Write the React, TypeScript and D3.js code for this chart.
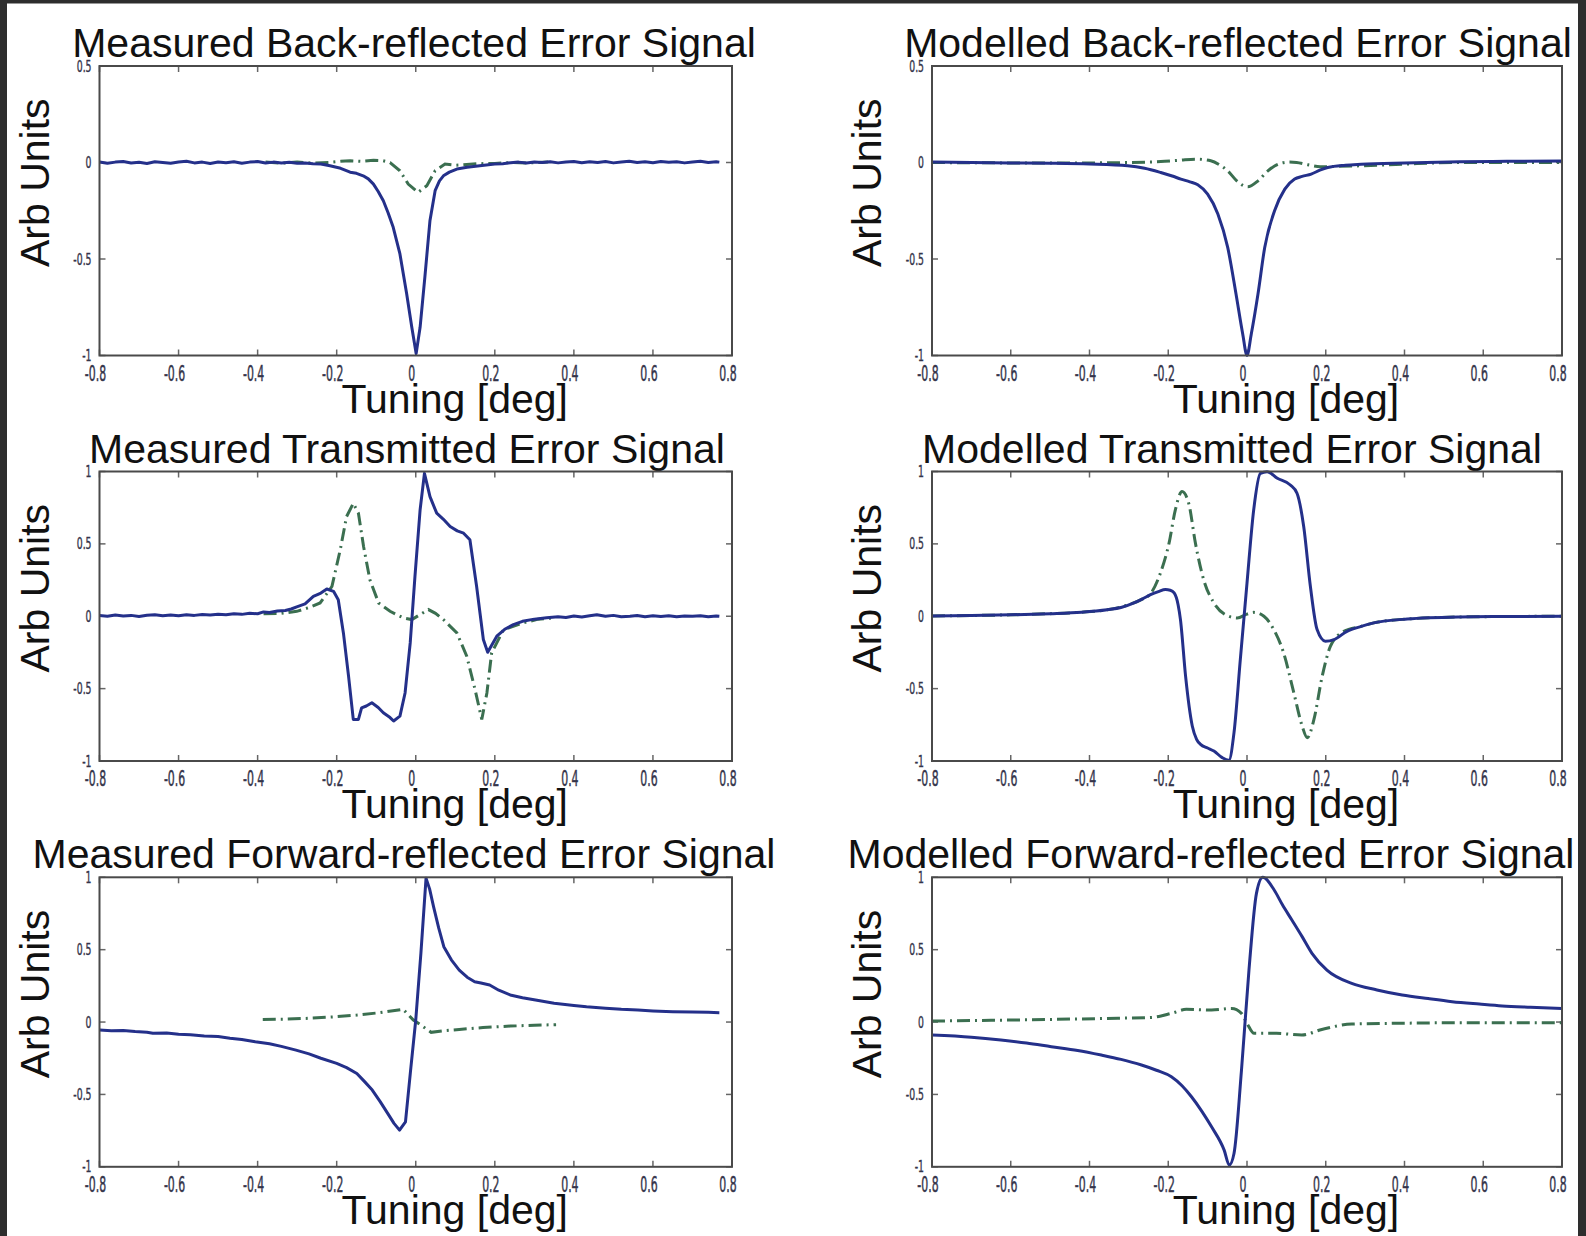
import React from "react";
import * as d3 from "d3";

type Pt = [number, number];

// tick values / labels
const xTicks = [-0.8, -0.6, -0.4, -0.2, 0, 0.2, 0.4, 0.6, 0.8];
const xTickLabels = ["-0.8", "-0.6", "-0.4", "-0.2", "0", "0.2", "0.4", "0.6", "0.8"];
const yTicksBack = [-1, -0.5, 0, 0.5];
const yTickLabelsBack = ["-1", "-0.5", "0", "0.5"];
const yTicksFull = [-1, -0.5, 0, 0.5, 1];
const yTickLabelsFull = ["-1", "-0.5", "0", "0.5", "1"];

const titles = [
  "Measured Back-reflected Error Signal",
  "Modelled Back-reflected Error Signal",
  "Measured Transmitted Error Signal",
  "Modelled Transmitted Error Signal",
  "Measured Forward-reflected Error Signal",
  "Modelled Forward-reflected Error Signal",
];

// curves: [tuning deg, arb units]
const measBackBlue: Pt[] = [
  [-0.8, 0.003], [-0.78, -0.004], [-0.76, 0.002], [-0.74, 0.005], [-0.72, -0.003], [-0.7, 0.001],
  [-0.68, -0.005], [-0.66, 0.004], [-0.64, 0.0], [-0.62, -0.004], [-0.6, 0.003], [-0.58, 0.006],
  [-0.56, -0.002], [-0.54, 0.002], [-0.52, -0.005], [-0.5, 0.003], [-0.48, -0.001], [-0.46, 0.004],
  [-0.44, -0.004], [-0.42, 0.002], [-0.4, 0.005], [-0.38, -0.003], [-0.36, 0.002], [-0.34, -0.002],
  [-0.32, 0.001], [-0.3, -0.004], [-0.28, -0.002], [-0.26, -0.006], [-0.24, -0.008], [-0.217, -0.017],
  [-0.19, -0.03], [-0.166, -0.05], [-0.15, -0.056], [-0.133, -0.069], [-0.12, -0.085], [-0.107, -0.112],
  [-0.095, -0.15], [-0.082, -0.198], [-0.07, -0.26], [-0.057, -0.336], [-0.04, -0.474], [-0.023, -0.68],
  [-0.01, -0.854], [0.001, -0.99], [0.011, -0.854], [0.023, -0.595], [0.036, -0.3], [0.049, -0.146],
  [0.06, -0.095], [0.07, -0.069], [0.085, -0.05], [0.104, -0.034], [0.13, -0.025], [0.162, -0.017],
  [0.2, -0.008], [0.22, -0.006], [0.24, -0.001], [0.26, 0.002], [0.28, -0.003], [0.3, 0.003],
  [0.32, 0.0], [0.34, 0.004], [0.36, -0.002], [0.38, 0.003], [0.4, 0.005], [0.42, -0.001],
  [0.44, 0.004], [0.46, 0.0], [0.48, 0.005], [0.5, -0.002], [0.52, 0.003], [0.54, 0.006],
  [0.56, 0.0], [0.58, 0.004], [0.6, -0.001], [0.62, 0.005], [0.64, 0.001], [0.66, 0.004],
  [0.68, -0.002], [0.7, 0.003], [0.72, 0.006], [0.74, 0.0], [0.76, 0.004], [0.768, 0.002],
];
const measBackGreen: Pt[] = [
  [-0.38, 0.003], [-0.34, -0.004], [-0.3, 0.002], [-0.26, -0.003], [-0.22, 0.0], [-0.19, 0.006],
  [-0.166, 0.009], [-0.14, 0.006], [-0.107, 0.012], [-0.085, 0.01], [-0.065, 0.0], [-0.04, -0.043],
  [-0.019, -0.112], [0.006, -0.155], [0.028, -0.12], [0.049, -0.043], [0.074, -0.008], [0.1, -0.014],
  [0.12, -0.012], [0.16, -0.006], [0.2, -0.005], [0.24, 0.0], [0.28, -0.003], [0.335, 0.002],
];
const modelBackBlue: Pt[] = [
  [-0.8, 0.002], [-0.7, 0.0], [-0.6, -0.002], [-0.5, -0.004], [-0.4, -0.008], [-0.303, -0.017],
  [-0.26, -0.03], [-0.219, -0.052], [-0.19, -0.07], [-0.168, -0.086], [-0.145, -0.1], [-0.125, -0.115],
  [-0.1, -0.164], [-0.074, -0.267], [-0.049, -0.44], [-0.028, -0.68], [-0.011, -0.887], [0, -1],
  [0.011, -0.887], [0.028, -0.68], [0.045, -0.44], [0.07, -0.25], [0.096, -0.138], [0.121, -0.086],
  [0.14, -0.072], [0.163, -0.06], [0.185, -0.04], [0.205, -0.026], [0.25, -0.014], [0.29, -0.009],
  [0.4, -0.002], [0.54, 0.004], [0.66, 0.006], [0.8, 0.008],
];
const modelBackGreen: Pt[] = [
  [-0.8, 0.0], [-0.6, -0.002], [-0.4, -0.002], [-0.3, 0.0], [-0.219, 0.005], [-0.17, 0.012],
  [-0.125, 0.017], [-0.092, 0.009], [-0.07, -0.012], [-0.049, -0.043], [-0.026, -0.095], [0.002, -0.126],
  [0.028, -0.095], [0.053, -0.043], [0.07, -0.018], [0.084, -0.005], [0.105, 0.002], [0.126, 0.0],
  [0.155, -0.012], [0.186, -0.022], [0.23, -0.02], [0.29, -0.017], [0.4, -0.008], [0.54, 0.0], [0.8, 0.0],
];
const measTransBlue: Pt[] = [
  [-0.8, 0.005], [-0.78, 0.0], [-0.76, 0.008], [-0.74, 0.002], [-0.72, 0.006], [-0.7, -0.002],
  [-0.68, 0.007], [-0.66, 0.01], [-0.64, 0.003], [-0.62, 0.008], [-0.6, 0.004], [-0.58, 0.011],
  [-0.56, 0.006], [-0.54, 0.012], [-0.52, 0.008], [-0.5, 0.014], [-0.48, 0.01], [-0.46, 0.018],
  [-0.44, 0.013], [-0.42, 0.02], [-0.4, 0.017], [-0.385, 0.03], [-0.37, 0.026], [-0.35, 0.036],
  [-0.33, 0.04], [-0.315, 0.05], [-0.301, 0.065], [-0.28, 0.085], [-0.259, 0.137], [-0.24, 0.16],
  [-0.225, 0.188], [-0.208, 0.172], [-0.196, 0.114], [-0.183, -0.115], [-0.17, -0.414], [-0.158, -0.713],
  [-0.145, -0.713], [-0.137, -0.633], [-0.125, -0.62], [-0.111, -0.598], [-0.095, -0.63], [-0.082, -0.667],
  [-0.065, -0.7], [-0.056, -0.724], [-0.04, -0.69], [-0.027, -0.53], [-0.014, -0.184], [-0.002, 0.275],
  [0.011, 0.735], [0.022, 0.987], [0.036, 0.826], [0.053, 0.712], [0.07, 0.67], [0.087, 0.62],
  [0.105, 0.59], [0.121, 0.574], [0.137, 0.528], [0.154, 0.206], [0.171, -0.161], [0.182, -0.249],
  [0.205, -0.138], [0.225, -0.09], [0.247, -0.058], [0.27, -0.035], [0.3, -0.02], [0.331, -0.011],
  [0.36, -0.004], [0.38, -0.008], [0.4, 0.002], [0.42, -0.005], [0.44, 0.004], [0.458, 0.011],
  [0.48, 0.0], [0.5, 0.006], [0.52, -0.004], [0.542, 0.0], [0.56, 0.005], [0.58, -0.003],
  [0.6, 0.004], [0.62, -0.002], [0.64, 0.003], [0.66, -0.004], [0.68, 0.002], [0.7, 0.0],
  [0.72, 0.004], [0.74, -0.003], [0.76, 0.002], [0.768, 0.0],
];
const measTransGreen: Pt[] = [
  [-0.385, 0.018], [-0.34, 0.02], [-0.301, 0.034], [-0.27, 0.06], [-0.242, 0.092], [-0.212, 0.206],
  [-0.191, 0.459], [-0.175, 0.689], [-0.158, 0.78], [-0.145, 0.712], [-0.132, 0.482], [-0.116, 0.252],
  [-0.094, 0.092], [-0.065, 0.034], [-0.031, -0.012], [-0.01, -0.023], [0.01, 0.01], [0.032, 0.046],
  [0.05, 0.02], [0.07, -0.023], [0.104, -0.115], [0.129, -0.276], [0.15, -0.506], [0.167, -0.713],
  [0.18, -0.53], [0.192, -0.253], [0.222, -0.092], [0.272, -0.046], [0.31, -0.02], [0.35, -0.012],
];
const modelTransBlue: Pt[] = [
  [-0.8, 0.002], [-0.7, 0.005], [-0.6, 0.01], [-0.5, 0.018], [-0.42, 0.028], [-0.355, 0.045],
  [-0.32, 0.06], [-0.287, 0.092], [-0.265, 0.12], [-0.245, 0.149], [-0.225, 0.17], [-0.207, 0.184],
  [-0.195, 0.18], [-0.185, 0.161], [-0.175, 0.08], [-0.169, -0.023], [-0.156, -0.414], [-0.139, -0.758],
  [-0.128, -0.85], [-0.118, -0.885], [-0.1, -0.91], [-0.084, -0.931], [-0.063, -0.977], [-0.046, -0.995],
  [-0.033, -0.804], [-0.017, -0.3], [0.0, 0.229], [0.017, 0.735], [0.034, 0.987], [0.051, 0.999],
  [0.077, 0.953], [0.11, 0.907], [0.127, 0.85], [0.144, 0.62], [0.161, 0.206], [0.178, -0.092],
  [0.199, -0.172], [0.221, -0.161], [0.254, -0.104], [0.29, -0.07], [0.322, -0.046], [0.407, -0.019],
  [0.542, -0.005], [0.65, -0.002], [0.8, 0.0],
];
const modelTransGreen: Pt[] = [
  [-0.8, 0.002], [-0.7, 0.005], [-0.6, 0.01], [-0.5, 0.018], [-0.42, 0.028], [-0.355, 0.045],
  [-0.3, 0.08], [-0.265, 0.12], [-0.245, 0.156], [-0.22, 0.298], [-0.198, 0.505], [-0.182, 0.735],
  [-0.165, 0.861], [-0.148, 0.78], [-0.131, 0.505], [-0.11, 0.252], [-0.084, 0.092], [-0.05, 0.004],
  [-0.025, -0.012], [0.0, 0.015], [0.017, 0.027], [0.043, 0.0], [0.068, -0.092], [0.093, -0.253],
  [0.119, -0.53], [0.14, -0.758], [0.153, -0.839], [0.17, -0.713], [0.191, -0.414], [0.212, -0.207],
  [0.246, -0.104], [0.29, -0.07], [0.322, -0.046], [0.407, -0.019], [0.542, -0.005], [0.65, -0.002], [0.8, 0.0],
];
const measFwdBlue: Pt[] = [
  [-0.8, -0.055], [-0.77, -0.06], [-0.74, -0.058], [-0.71, -0.066], [-0.68, -0.07], [-0.665, -0.078],
  [-0.63, -0.075], [-0.6, -0.084], [-0.57, -0.088], [-0.535, -0.097], [-0.5, -0.1], [-0.47, -0.112],
  [-0.44, -0.12], [-0.406, -0.136], [-0.37, -0.15], [-0.34, -0.168], [-0.303, -0.194], [-0.27, -0.22],
  [-0.24, -0.25], [-0.2, -0.286], [-0.175, -0.315], [-0.149, -0.355], [-0.13, -0.41], [-0.11, -0.47],
  [-0.09, -0.55], [-0.071, -0.631], [-0.055, -0.7], [-0.041, -0.747], [-0.026, -0.689], [-0.013, -0.332],
  [0.0, 0.014], [0.013, 0.475], [0.026, 0.993], [0.035, 0.92], [0.045, 0.797], [0.058, 0.65],
  [0.071, 0.521], [0.09, 0.43], [0.11, 0.359], [0.13, 0.31], [0.149, 0.279], [0.165, 0.27],
  [0.187, 0.256], [0.21, 0.22], [0.239, 0.187], [0.27, 0.168], [0.303, 0.152], [0.35, 0.13],
  [0.4, 0.115], [0.432, 0.106], [0.48, 0.096], [0.52, 0.088], [0.562, 0.083], [0.6, 0.077],
  [0.65, 0.072], [0.7, 0.07], [0.74, 0.067], [0.768, 0.065],
];
const measFwdGreen: Pt[] = [
  [-0.387, 0.018], [-0.33, 0.02], [-0.278, 0.025], [-0.21, 0.035], [-0.149, 0.048], [-0.09, 0.065],
  [-0.032, 0.088], [-0.006, 0.014], [0.013, -0.021], [0.039, -0.071], [0.07, -0.06], [0.11, -0.051],
  [0.17, -0.038], [0.239, -0.028], [0.3, -0.022], [0.355, -0.018],
];
const modelFwdBlue: Pt[] = [
  [-0.8, -0.09], [-0.7, -0.105], [-0.625, -0.124], [-0.56, -0.145], [-0.497, -0.17], [-0.43, -0.196],
  [-0.37, -0.228], [-0.32, -0.258], [-0.268, -0.297], [-0.23, -0.333], [-0.192, -0.378], [-0.165, -0.44],
  [-0.141, -0.516], [-0.115, -0.615], [-0.09, -0.724], [-0.058, -0.885], [-0.045, -0.988], [-0.033, -0.908],
  [-0.014, -0.332], [0.005, 0.359], [0.024, 0.889], [0.04, 1.0], [0.069, 0.912], [0.09, 0.81],
  [0.114, 0.705], [0.14, 0.59], [0.165, 0.475], [0.203, 0.359], [0.266, 0.267], [0.33, 0.222],
  [0.394, 0.187], [0.46, 0.162], [0.521, 0.141], [0.59, 0.124], [0.648, 0.111], [0.72, 0.102], [0.8, 0.094],
];
const modelFwdGreen: Pt[] = [
  [-0.8, 0.007], [-0.65, 0.012], [-0.497, 0.018], [-0.36, 0.025], [-0.243, 0.032], [-0.192, 0.06],
  [-0.154, 0.088], [-0.09, 0.083], [-0.039, 0.094], [-0.014, 0.06], [0.0, -0.009], [0.018, -0.078],
  [0.075, -0.078], [0.139, -0.09], [0.19, -0.051], [0.266, -0.014], [0.4, -0.008], [0.52, -0.005], [0.8, -0.005],
];

// layout
const W = 1586;
const H = 1236;
const ROW_TOP = [66, 471.5, 877.3];
const AX_H = 289.5;
const COL_LEFT = [99.5, 932];
const AX_W = [632.5, 630];
const BLUE = "#24308a";
const GREEN = "#3b6f50";
const BIG_FONT = "'Liberation Sans', Arial, Helvetica, sans-serif";
const TICK_FONT = "'DejaVu Sans', sans-serif";
const TICK_COLOR = "#34344a";

const panels = [
  { title: titles[0], row: 0, col: 0, titleX: 414, back: true, smooth: false, blue: measBackBlue, green: measBackGreen },
  { title: titles[1], row: 0, col: 1, titleX: 1238, back: true, smooth: true, blue: modelBackBlue, green: modelBackGreen },
  { title: titles[2], row: 1, col: 0, titleX: 407, back: false, smooth: false, blue: measTransBlue, green: measTransGreen },
  { title: titles[3], row: 1, col: 1, titleX: 1232, back: false, smooth: true, blue: modelTransBlue, green: modelTransGreen },
  { title: titles[4], row: 2, col: 0, titleX: 404, back: false, smooth: false, blue: measFwdBlue, green: measFwdGreen },
  { title: titles[5], row: 2, col: 1, titleX: 1211, back: false, smooth: true, blue: modelFwdBlue, green: modelFwdGreen },
];

function Panel({ p }: { p: (typeof panels)[number] }) {
  const left = COL_LEFT[p.col];
  const w = AX_W[p.col];
  const top = ROW_TOP[p.row];
  const bottom = top + AX_H;
  const yTicks = p.back ? yTicksBack : yTicksFull;
  const yLabels = p.back ? yTickLabelsBack : yTickLabelsFull;

  const x = d3.scaleLinear().domain([-0.8, 0.8]).range([left, left + w]);
  const y = d3.scaleLinear().domain(p.back ? [-1, 0.5] : [-1, 1]).range([bottom, top]);
  const line = d3
    .line<Pt>()
    .x((d) => x(d[0]))
    .y((d) => y(d[1]))
    .curve(p.smooth ? d3.curveMonotoneX : d3.curveLinear);

  const cx = left + w / 2;

  return (
    <g>
      <text x={p.titleX} y={top - 9} textAnchor="middle" fontFamily={BIG_FONT} fontSize={41} fill="#111">
        {p.title}
      </text>

      {xTicks.map((t, i) => (
        <g key={"xt" + i}>
          <line x1={x(t)} x2={x(t)} y1={bottom} y2={bottom - 6} stroke="#666" strokeWidth={1.5} />
          <line x1={x(t)} x2={x(t)} y1={top} y2={top + 6} stroke="#666" strokeWidth={1.5} />
          <text
            transform={`translate(${x(t) - 4},${bottom + 25}) scale(0.52,1)`}
            textAnchor="middle"
            fontFamily={TICK_FONT}
            fontSize={21}
            fill={TICK_COLOR}
            stroke={TICK_COLOR}
            strokeWidth={0.5}
          >
            {xTickLabels[i]}
          </text>
        </g>
      ))}
      {yTicks.map((t, i) => (
        <g key={"yt" + i}>
          <line x1={left} x2={left + 6} y1={y(t)} y2={y(t)} stroke="#666" strokeWidth={1.5} />
          <line x1={left + w} x2={left + w - 6} y1={y(t)} y2={y(t)} stroke="#666" strokeWidth={1.5} />
          <text
            transform={`translate(${left - 8},${y(t) + 5.5}) scale(0.6,1)`}
            textAnchor="end"
            fontFamily={TICK_FONT}
            fontSize={15.5}
            fill={TICK_COLOR}
            stroke={TICK_COLOR}
            strokeWidth={0.4}
          >
            {yLabels[i]}
          </text>
        </g>
      ))}

      <path d={line(p.green) || ""} fill="none" stroke={GREEN} strokeWidth={3} strokeDasharray="13,5,2,5" />
      <path d={line(p.blue) || ""} fill="none" stroke={BLUE} strokeWidth={3} strokeLinejoin="round" />

      <rect x={left} y={top} width={w} height={AX_H} fill="none" stroke="#4a4a4a" strokeWidth={2} />

      <text x={cx + 39} y={bottom + 57} textAnchor="middle" fontFamily={BIG_FONT} fontSize={41} fill="#111">
        Tuning [deg]
      </text>
      <text
        transform={`translate(${left - 51},${top + AX_H / 2 - 28}) rotate(-90)`}
        textAnchor="middle"
        fontFamily={BIG_FONT}
        fontSize={41}
        fill="#111"
      >
        Arb Units
      </text>
    </g>
  );
}

export default function App() {
  return (
    <svg width={W} height={H} style={{ position: "absolute", left: 0, top: 0, display: "block" }}>
      <rect x={0} y={0} width={W} height={H} fill="#2e2e2e" />
      <rect x={7} y={3.5} width={1571} height={H - 3.5} fill="#ffffff" />
      {panels.map((p, i) => (
        <Panel key={i} p={p} />
      ))}
    </svg>
  );
}
